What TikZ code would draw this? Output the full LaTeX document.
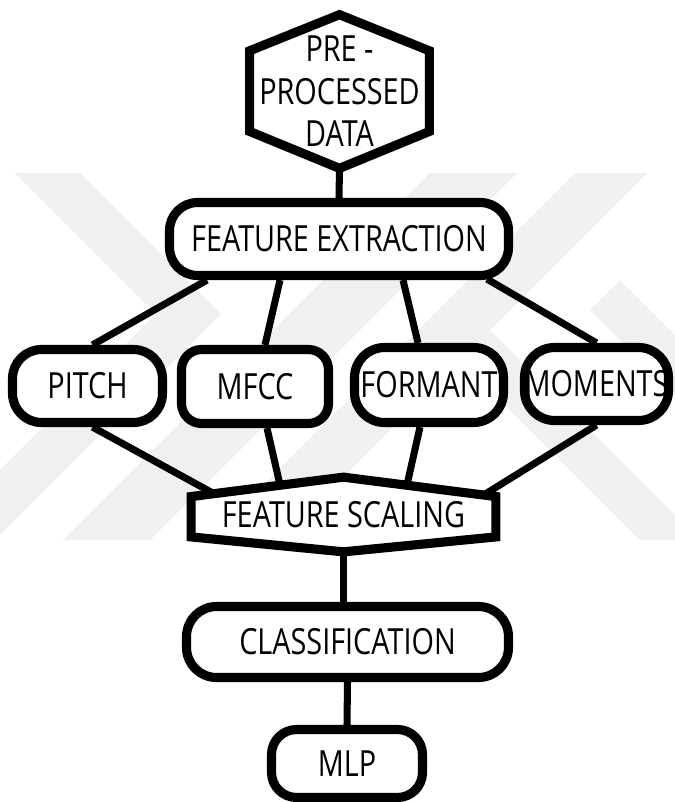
\documentclass[tikz,border=0pt]{standalone}
\usepackage{fontspec}
\setmainfont{Open Sans}[FakeStretch=0.8]
\usetikzlibrary{calc}
\definecolor{wmgray}{RGB}{240,240,240}
\pgfdeclarelayer{bg}
\pgfdeclarelayer{mid}
\pgfsetlayers{bg,mid,main}
\tikzset{
  lbl/.style={font=\fontsize{20.5pt}{24.2pt}\selectfont},
  border/.style={line width=5.2pt},
  conn/.style={line width=4pt},
  rbox/.style={draw, border, fill=white, inner sep=0pt, lbl, rounded corners=#1},
  rbox/.default=0.6cm,
  hexlabel/.style={inner sep=0pt, lbl, align=center},
  hexline/.style={draw, border, fill=white, line join=miter},
}
\begin{document}
\begin{tikzpicture}[x=0.02cm, y=-0.02cm]
\useasboundingbox (0,0) rectangle (675,802);

% nodes
\node[hexlabel, minimum width=3.58cm, minimum height=3.06cm] (pre) at (339.5,91.5) {PRE -\\PROCESSED\\DATA};
\node[rbox=0.56cm, minimum width=6.78cm, minimum height=1.46cm] (fe) at (339,239) {FEATURE EXTRACTION};
\node[rbox=0.58cm, minimum width=3.0cm, minimum height=1.46cm] (pitch) at (87.5,386) {PITCH};
\node[rbox=0.4cm, minimum width=2.94cm, minimum height=1.48cm] (mfcc) at (255,386.5) {MFCC};
\node[rbox=0.6cm, minimum width=2.98cm, minimum height=1.5cm] (formant) at (429,385) {FORMANT};
\node[rbox=0.6cm, minimum width=2.88cm, minimum height=1.46cm] (moments) at (596.5,384) {MOMENTS};
\node[hexlabel, minimum width=6.08cm, minimum height=1.48cm] (fs) at (343.5,514.5) {FEATURE SCALING};
\node[rbox=0.6cm, minimum width=6.44cm, minimum height=1.42cm] (cls) at (347.5,642) {CLASSIFICATION};
\node[rbox=0.5cm, minimum width=3.02cm, minimum height=1.36cm] (mlp) at (347,763.5) {MLP};

\begin{pgfonlayer}{bg}
  % faint background pattern
  \begin{scope}
    \clip (0,173) rectangle (675,540);
    \fill[wmgray] (15,173) -- (80,173) -- (221,314) -- (0,535) -- (0,470) -- (156,314) -- cycle;
    \fill[wmgray] (430,173) -- (517,173) -- (150,540) -- (63,540) -- cycle;
    \fill[wmgray] (575,173) -- (647,173) -- (280,540) -- (208,540) -- cycle;
    \fill[wmgray] (460,360) -- (490,330) -- (700,540) -- (640,540) -- cycle;
    \fill[wmgray] (590,310) -- (620,280) -- (800,460) -- (770,490) -- cycle;
  \end{scope}
  % connectors
  \begin{scope}[conn]
    \draw (pre.south) -- (fe.north);
    \draw ($(fe.south)+(-132,0)$) -- ($(pitch.north)+(5,0)$);
    \draw ($(fe.south)+(-59,0)$) -- ($(mfcc.north)+(10,0)$);
    \draw ($(fe.south)+(64,0)$) -- ($(formant.north)+(-11,0)$);
    \draw ($(fe.south)+(148,-1)$) -- (moments.north);
    \draw ($(pitch.south)+(5,0)$) -- ($(fs.north)+(-130.5,16)$);
    \draw ($(mfcc.south)+(12,0)$) -- ($(fs.north)+(-63.5,7.7)$);
    \draw ($(formant.south)+(-9,0)$) -- ($(fs.north)+(63.5,7.7)$);
    \draw (moments.south) -- ($(fs.north)+(141.5,17)$);
    \draw (fs.south) -- (fs.south |- cls.north);
    \draw (cls.south) -- (mlp.north);
  \end{scope}
\end{pgfonlayer}

% hexagonal outlines behind their labels
\begin{pgfonlayer}{mid}
  \path[hexline] (pre.north)
    -- ($(pre.north east)!0.235!(pre.south east)$)
    -- ($(pre.north east)!0.76!(pre.south east)$)
    -- (pre.south)
    -- ($(pre.north west)!0.76!(pre.south west)$)
    -- ($(pre.north west)!0.235!(pre.south west)$)
    -- cycle;
  \path[hexline] (fs.north)
    -- ($(fs.north east)!0.26!(fs.south east)$)
    -- ($(fs.north east)!0.8!(fs.south east)$)
    -- (fs.south)
    -- ($(fs.north west)!0.8!(fs.south west)$)
    -- ($(fs.north west)!0.26!(fs.south west)$)
    -- cycle;
\end{pgfonlayer}
\end{tikzpicture}
\end{document}
